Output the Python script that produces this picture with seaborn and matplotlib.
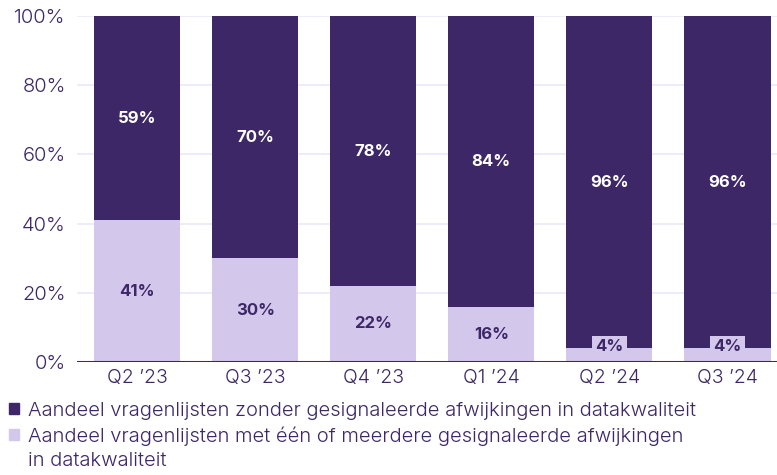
import matplotlib
matplotlib.use("Agg")
import matplotlib.pyplot as plt
import seaborn as sns
import pandas as pd
from matplotlib.patches import Patch

# data
quarters = ["Q2 \u201923", "Q3 \u201923", "Q4 \u201923", "Q1 \u201924", "Q2 \u201924", "Q3 \u201924"]
zonder = [59, 70, 78, 84, 96, 96]   # without anomalies (dark)
met = [41, 30, 22, 16, 4, 4]        # with one or more anomalies (light)
y_ticks = [0, 20, 40, 60, 80, 100]

dark = "#3d2766"
light = "#d3c7ec"
grid_col = "#ece8fa"

sns.set_theme(style="white")
plt.rcParams["font.family"] = ["Inter", "DejaVu Sans"]

df = pd.DataFrame({"kwartaal": quarters, "zonder": zonder, "met": met})
df["totaal"] = df["zonder"] + df["met"]

fig = plt.figure(figsize=(7.77, 4.75), dpi=100)
ax = fig.add_axes([0.099, 0.238, 0.901, 0.728])

for y in y_ticks[1:]:
    ax.axhline(y, color=grid_col, lw=1.2, zorder=0)

sns.barplot(data=df, x="kwartaal", y="totaal", color=dark, width=0.73,
            saturation=1, linewidth=0, ax=ax, zorder=2)
sns.barplot(data=df, x="kwartaal", y="met", color=light, width=0.73,
            saturation=1, linewidth=0, ax=ax, zorder=3)

ax.axhline(0, color=dark, lw=2.2, zorder=5)

# value labels
for i, row in df.iterrows():
    ax.text(i, row["met"] + row["zonder"] / 2, f"{row['zonder']}%", ha="center", va="center",
            color="white", fontsize=12, fontweight="bold", zorder=6)
    if row["met"] >= 10:
        ax.text(i, row["met"] / 2, f"{row['met']}%", ha="center", va="center",
                color=dark, fontsize=12, fontweight="bold", zorder=6)
    else:
        ax.text(i, row["met"] + 0.4, f"{row['met']}%", ha="center", va="center",
                color=dark, fontsize=12, fontweight="bold", zorder=6,
                bbox=dict(boxstyle="square,pad=0.2", fc=light, ec="none"))

ax.set_xlim(-0.51, 5.42)
ax.set_ylim(0, 100)
ax.set_yticks(y_ticks)
ax.set_yticklabels([f"{v}%" for v in y_ticks])
ax.set_xlabel("")
ax.set_ylabel("")
ax.tick_params(axis="both", length=0, colors=dark)
ax.tick_params(axis="y", pad=8, labelsize=14.5)
ax.tick_params(axis="x", pad=5, labelsize=14)
for lab in ax.get_xticklabels() + ax.get_yticklabels():
    lab.set_fontweight(300)
for s in ax.spines.values():
    s.set_visible(False)

# legend: the second entry wraps onto a third line without a marker
handles = [Patch(color=dark), Patch(color=light), Patch(color="none")]
labels = ["Aandeel vragenlijsten zonder gesignaleerde afwijkingen in datakwaliteit",
          "Aandeel vragenlijsten met \u00e9\u00e9n of meerdere gesignaleerde afwijkingen",
          "in datakwaliteit"]
leg = fig.legend(handles, labels, loc="upper left", bbox_to_anchor=(0.006, 0.163),
                 frameon=False, fontsize=14.5, handlelength=0.5, handleheight=0.5,
                 handletextpad=0.45, labelspacing=0.32, borderaxespad=0, borderpad=0.2)
for t in leg.get_texts():
    t.set_color(dark)
    t.set_fontweight(300)

fig.savefig("out.png", dpi=100)
